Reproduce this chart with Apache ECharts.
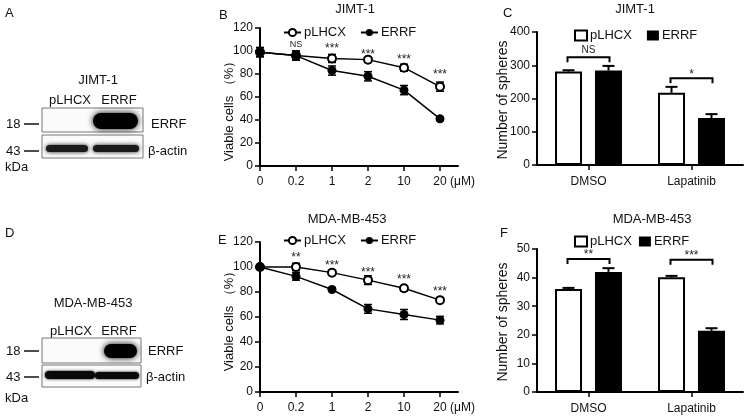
<!DOCTYPE html>
<html><head><meta charset="utf-8">
<script src="https://cdn.jsdelivr.net/npm/echarts@6/dist/echarts.min.js"></script>
<style>html,body{margin:0;padding:0;background:#fff}#c{width:745px;height:416px}</style>
</head><body><div id="c"></div>
<script>
// ---------- data ----------
const doseLabels = ['0', '0.2', '1', '2', '10', '20'];
const jimtViabPLHCX = [99, 96, 93.5, 92.5, 85.5, 69];
const jimtViabPLHCXErr = [4, 4, 3.5, 1.5, 3, 4];
const jimtViabERRF = [99, 96, 83, 78, 66, 41];
const jimtViabERRFErr = [4, 4, 4, 4, 4, 1.5];
const jimtViabSig = ['', 'NS', '***', '***', '***', '***'];
const jimtViabSigY = [null, 106, 104.6, 99.4, 95, 82];

const mdaViabPLHCX = [100, 100, 95.5, 89.5, 83, 73.5];
const mdaViabPLHCXErr = [1, 3, 1.5, 3.5, 2, 1.5];
const mdaViabERRF = [100, 92.5, 82, 66.5, 62, 57.5];
const mdaViabERRFErr = [1, 3, 1, 3.5, 4, 3];
const mdaViabSig = ['', '**', '***', '***', '***', '***'];
const mdaViabSigY = [null, 109.6, 103.2, 97.6, 92, 82.4];

const treatments = ['DMSO', 'Lapatinib'];
const jimtSpheresPLHCX = [281, 217];
const jimtSpheresPLHCXErr = [4, 18];
const jimtSpheresERRF = [284, 141];
const jimtSpheresERRFErr = [14, 12];
const jimtSpheresSig = ['NS', '*'];
const jimtSpheresBracketY = [324, 261];

const mdaSpheresPLHCX = [36.0, 40.1];
const mdaSpheresPLHCXErr = [0.4, 0.5];
const mdaSpheresERRF = [42.0, 21.4];
const mdaSpheresERRFErr = [1.3, 0.9];
const mdaSpheresSig = ['**', '***'];
const mdaSpheresBracketY = [46.5, 46.2];

// ---------- helpers ----------
const FONT = 'Liberation Sans, Arial, sans-serif';
const BLACK = '#000';

function xyPairs(vals) { return vals.map((v, i) => [i, v]); }
function errData(vals, errs) { return vals.map((v, i) => [i, v - errs[i], v + errs[i]]); }

function lineErrRender(params, api) {
  const x = api.value(0);
  const lo = api.coord([x, api.value(1)]);
  const hi = api.coord([x, api.value(2)]);
  const w = 4;
  const st = { stroke: BLACK, lineWidth: 1.5 };
  return { type: 'group', children: [
    { type: 'line', shape: { x1: hi[0], y1: hi[1], x2: lo[0], y2: lo[1] }, style: st },
    { type: 'line', shape: { x1: hi[0] - w, y1: hi[1], x2: hi[0] + w, y2: hi[1] }, style: st },
    { type: 'line', shape: { x1: lo[0] - w, y1: lo[1], x2: lo[0] + w, y2: lo[1] }, style: st }
  ]};
}

function sigRender(labels) {
  return function (params, api) {
    const i = params.dataIndex;
    const p = api.coord([api.value(0), api.value(1)]);
    const txt = labels[i];
    const isNS = txt === 'NS';
    return { type: 'text', x: p[0], y: p[1] + (isNS ? 0 : 3),
      style: { text: txt, fill: '#222', font: (isNS ? '9px ' : '12px ') + FONT,
        align: 'center', verticalAlign: 'middle' } };
  };
}

function barErrRender(offset) {
  return function (params, api) {
    const c = api.value(0);
    const top = api.coord([c, api.value(1)]);
    const hi = api.coord([c, api.value(2)]);
    const x = top[0] + offset;
    const w = 6;
    const st = { stroke: BLACK, lineWidth: 2 };
    return { type: 'group', children: [
      { type: 'line', shape: { x1: x, y1: top[1], x2: x, y2: hi[1] }, style: st },
      { type: 'line', shape: { x1: x - w, y1: hi[1], x2: x + w, y2: hi[1] }, style: st }
    ]};
  };
}

function bracketRender(labels) {
  return function (params, api) {
    const i = params.dataIndex;
    const p = api.coord([api.value(0), api.value(1)]);
    const x1 = p[0] - 21, x2 = p[0] + 21, y = p[1];
    const st = { stroke: BLACK, lineWidth: 2, fill: null };
    const txt = labels[i];
    const isNS = txt === 'NS';
    return { type: 'group', children: [
      { type: 'polyline', shape: { points: [[x1, y + 5], [x1, y], [x2, y], [x2, y + 5]] }, style: st },
      { type: 'text', x: p[0], y: y - (isNS ? 7 : 4),
        style: { text: txt, fill: '#222', font: (isNS ? '10px ' : '12px ') + FONT,
          align: 'center', verticalAlign: 'middle' } }
    ]};
  };
}

function valueXAxis(gi) {
  return { type: 'value', gridIndex: gi, min: 0, max: 5.5,
    axisLine: { show: true, onZero: false, lineStyle: { color: BLACK, width: 2 } },
    axisTick: { show: true, length: 5, lineStyle: { color: BLACK, width: 1.5 }, customValues: [0, 1, 2, 3, 4, 5] },
    axisLabel: { color: '#111', fontSize: 12, fontFamily: FONT, margin: 10,
      customValues: [0, 1, 2, 3, 4, 5], formatter: v => doseLabels[Math.round(v)] || '' },
    splitLine: { show: false } };
}
function valueYAxis(gi, max, interval) {
  return { type: 'value', gridIndex: gi, min: 0, max: max, interval: interval,
    axisLine: { show: true, lineStyle: { color: BLACK, width: 2 } },
    axisTick: { show: true, length: 5, lineStyle: { color: BLACK, width: 1.5 } },
    axisLabel: { color: '#111', fontSize: 12, fontFamily: FONT, margin: 7 },
    splitLine: { show: false } };
}
function catXAxis(gi) {
  return { type: 'category', gridIndex: gi, data: treatments,
    axisLine: { show: true, lineStyle: { color: BLACK, width: 2 } },
    axisTick: { show: true, alignWithLabel: true, length: 5, lineStyle: { color: BLACK, width: 1.5 } },
    axisLabel: { color: '#111', fontSize: 12, fontFamily: FONT, margin: 11 } };
}

function lineSeries(name, gi, vals, open) {
  return { name: name, type: 'line', xAxisIndex: gi, yAxisIndex: gi, data: xyPairs(vals),
    symbol: open ? 'emptyCircle' : 'circle', symbolSize: open ? 8 : 9,
    lineStyle: { color: BLACK, width: 1.5 },
    itemStyle: { color: BLACK, borderColor: BLACK, borderWidth: open ? 1.5 : 0 },
    z: 3, animation: false };
}
function errSeries(gi, vals, errs) {
  return { type: 'custom', xAxisIndex: gi, yAxisIndex: gi, data: errData(vals, errs),
    encode: { x: 0, y: [1, 2] }, renderItem: lineErrRender, z: 2, silent: true, animation: false };
}
function sigSeries(gi, labels, ys) {
  const d = []; ys.forEach((y, i) => { d.push([i, y == null ? 0 : y]); });
  return { type: 'custom', xAxisIndex: gi, yAxisIndex: gi, data: d, encode: { x: 0, y: 1 },
    renderItem: (p, api) => labels[p.dataIndex] ? sigRender(labels)(p, api) : null,
    z: 4, silent: true, animation: false };
}
function barSeries(name, gi, vals, white) {
  return { name: name, type: 'bar', xAxisIndex: gi, yAxisIndex: gi, data: vals,
    barWidth: 27, barGap: '48%',
    itemStyle: white ? { color: '#fff', borderColor: BLACK, borderWidth: 2 } : { color: BLACK },
    animation: false };
}
function barErrSeries(gi, vals, errs, offset) {
  return { type: 'custom', xAxisIndex: gi, yAxisIndex: gi,
    data: vals.map((v, i) => [i, v, v + errs[i]]), encode: { x: 0, y: [1, 2] },
    renderItem: barErrRender(offset), z: 3, silent: true, animation: false };
}
function bracketSeries(gi, labels, ys) {
  return { type: 'custom', xAxisIndex: gi, yAxisIndex: gi, data: ys.map((y, i) => [i, y]),
    encode: { x: 0, y: 1 }, renderItem: bracketRender(labels), z: 4, silent: true, animation: false };
}
function legend(names, left, top, isBar, gap) {
  return { data: names, left: left, top: top, orient: 'horizontal',
    itemWidth: isBar ? 12 : 17, itemHeight: isBar ? 10 : 9, itemGap: gap,
    icon: isBar ? 'rect' : undefined, selectedMode: false,
    formatter: n => n.split('_')[1],
    textStyle: { fontSize: 13, fontFamily: FONT, color: '#111', padding: [0, 0, 0, -2] } };
}

// ---------- graphics (labels, western blots) ----------
function txt(x, y, s, size, align, rot) {
  return { type: 'text', x: x, y: y, rotation: rot || 0,
    style: { text: s, fill: '#111', font: size + 'px ' + FONT, align: align || 'left', verticalAlign: 'middle' } };
}
function hline(x1, x2, y) {
  return { type: 'line', shape: { x1: x1, y1: y, x2: x2, y2: y }, style: { stroke: '#111', lineWidth: 1.5 } };
}
function box(x, y, w, h) {
  return { type: 'rect', shape: { x: x, y: y, width: w, height: h },
    style: { fill: '#fbfbfb', stroke: '#777', lineWidth: 1 } };
}
function band(x, y, w, h, color, blur) {
  return { type: 'rect', shape: { x: x, y: y, width: w, height: h, r: h / 2 },
    style: { fill: color, shadowBlur: blur, shadowColor: color } };
}

const graphics = [
  // panel letters
  txt(5, 13, 'A', 13), txt(219, 15, 'B', 13), txt(503, 13, 'C', 13),
  txt(5, 233, 'D', 13), txt(218, 240, 'E', 13), txt(500, 233, 'F', 13),
  // chart titles
  txt(355, 9, 'JIMT-1', 13, 'center'), txt(635, 9, 'JIMT-1', 13, 'center'),
  txt(347, 219, 'MDA-MB-453', 13, 'center'), txt(652, 219, 'MDA-MB-453', 13, 'center'),
  // axis names
  txt(229, 108, 'Viable cells （%）', 13, 'center', Math.PI / 2),
  txt(229, 318, 'Viable cells （%）', 13, 'center', Math.PI / 2),
  txt(503, 100, 'Number of spheres', 14, 'center', Math.PI / 2),
  txt(503, 322, 'Number of spheres', 14, 'center', Math.PI / 2),
  // unit
  txt(450, 182, '(μM)', 12), txt(450, 408, '(μM)', 12),

  // ---- blot A ----
  txt(98, 80, 'JIMT-1', 13, 'center'),
  txt(70, 100, 'pLHCX', 13, 'center'), txt(119, 100, 'ERRF', 13, 'center'),
  box(42, 108, 101, 24), box(42, 135, 101, 23),
  band(93, 113, 45, 16, '#000', 6),
  band(46, 145, 42, 7, '#1a1a1a', 4), band(93, 145, 46, 7, '#1a1a1a', 4),
  txt(6, 124, '18', 13), hline(24, 39, 124),
  txt(6, 151, '43', 13), hline(24, 39, 151),
  txt(5, 167, 'kDa', 13),
  txt(151, 124, 'ERRF', 13), txt(148, 151, 'β-actin', 13),

  // ---- blot D ----
  txt(93, 303, 'MDA-MB-453', 13, 'center'),
  txt(71, 331, 'pLHCX', 13, 'center'), txt(119, 331, 'ERRF', 13, 'center'),
  box(42, 338, 99, 25), box(42, 365, 99, 22),
  band(104, 344, 33, 14, '#000', 6),
  band(45, 371, 50, 8, '#0a0a0a', 3), band(95, 372, 44, 7, '#0a0a0a', 3),
  txt(6, 351, '18', 13), hline(24, 39, 351),
  txt(6, 377, '43', 13), hline(24, 39, 377),
  txt(5, 398, 'kDa', 13),
  txt(148, 351, 'ERRF', 13), txt(146, 377, 'β-actin', 13)
];

const option = {
  backgroundColor: '#fff',
  animation: false,
  textStyle: { fontFamily: FONT },
  grid: [
    { left: 260, top: 28, width: 198, height: 138 },
    { left: 537, top: 32, width: 206, height: 133 },
    { left: 260, top: 242, width: 198, height: 150 },
    { left: 537, top: 249, width: 206, height: 143 }
  ],
  xAxis: [valueXAxis(0), catXAxis(1), valueXAxis(2), catXAxis(3)],
  yAxis: [valueYAxis(0, 120, 20), valueYAxis(1, 400, 100), valueYAxis(2, 120, 20), valueYAxis(3, 50, 10)],
  legend: [
    legend(['B_pLHCX', 'B_ERRF'], 278, 21, false, 14),
    legend(['C_pLHCX', 'C_ERRF'], 569, 24, true, 15),
    legend(['E_pLHCX', 'E_ERRF'], 278, 229, false, 14),
    legend(['F_pLHCX', 'F_ERRF'], 569, 230, true, 7)
  ],
  series: [
    // B
    errSeries(0, jimtViabPLHCX, jimtViabPLHCXErr),
    errSeries(0, jimtViabERRF, jimtViabERRFErr),
    lineSeries('B_pLHCX', 0, jimtViabPLHCX, true),
    lineSeries('B_ERRF', 0, jimtViabERRF, false),
    sigSeries(0, jimtViabSig, jimtViabSigY),
    // C
    barSeries('C_pLHCX', 1, jimtSpheresPLHCX, true),
    barSeries('C_ERRF', 1, jimtSpheresERRF, false),
    barErrSeries(1, jimtSpheresPLHCX, jimtSpheresPLHCXErr, -20),
    barErrSeries(1, jimtSpheresERRF, jimtSpheresERRFErr, 20),
    bracketSeries(1, jimtSpheresSig, jimtSpheresBracketY),
    // E
    errSeries(2, mdaViabPLHCX, mdaViabPLHCXErr),
    errSeries(2, mdaViabERRF, mdaViabERRFErr),
    lineSeries('E_pLHCX', 2, mdaViabPLHCX, true),
    lineSeries('E_ERRF', 2, mdaViabERRF, false),
    sigSeries(2, mdaViabSig, mdaViabSigY),
    // F
    barSeries('F_pLHCX', 3, mdaSpheresPLHCX, true),
    barSeries('F_ERRF', 3, mdaSpheresERRF, false),
    barErrSeries(3, mdaSpheresPLHCX, mdaSpheresPLHCXErr, -20),
    barErrSeries(3, mdaSpheresERRF, mdaSpheresERRFErr, 20),
    bracketSeries(3, mdaSpheresSig, mdaSpheresBracketY)
  ],
  graphic: graphics
};

const chart = echarts.init(document.getElementById('c'), null, { renderer: 'canvas' });
chart.setOption(option);
</script>
</body></html>
